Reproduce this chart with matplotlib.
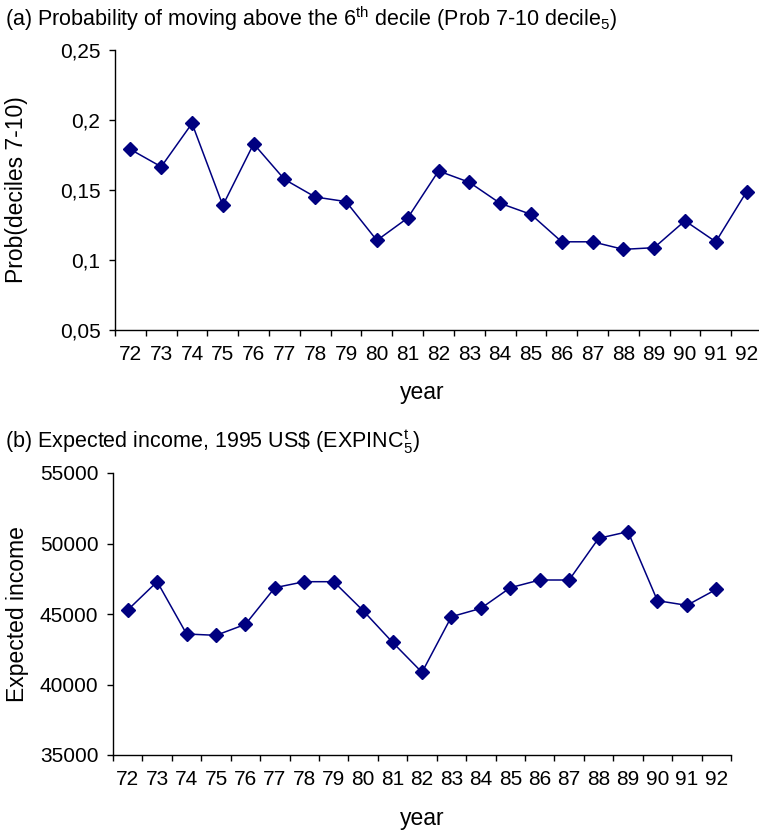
import matplotlib
matplotlib.use("Agg")
import matplotlib.pyplot as plt
import numpy as np

plt.rcParams['font.family'] = ['Liberation Sans', 'DejaVu Sans']
plt.rcParams['mathtext.fontset'] = 'custom'
plt.rcParams['mathtext.rm'] = 'Liberation Sans'
plt.rcParams['mathtext.it'] = 'Liberation Sans'

years = ['72', '73', '74', '75', '76', '77', '78', '79', '80', '81', '82',
         '83', '84', '85', '86', '87', '88', '89', '90', '91', '92']
prob_7_10 = [0.179, 0.1666, 0.1976, 0.139, 0.183, 0.1576, 0.145, 0.1417,
             0.114, 0.130, 0.1636, 0.1555, 0.1405, 0.1326, 0.113, 0.113,
             0.1076, 0.1088, 0.128, 0.113, 0.1488]
exp_income = [45284, 47291, 43582, 43487, 44267, 46866, 47291, 47291,
              45236, 42990, 40863, 44810, 45400, 46866, 47411, 47411,
              50366, 50839, 45945, 45614, 46748]
top_yticks = [0.05, 0.10, 0.15, 0.20, 0.25]
top_yticklabels = ['0,05', '0,1', '0,15', '0,2', '0,25']
bot_yticks = [35000, 40000, 45000, 50000, 55000]
bot_yticklabels = ['35000', '40000', '45000', '50000', '55000']

W, H = 759, 832
fig = plt.figure(figsize=(W / 100, H / 100), dpi=100)

color = '#000080'
fs_tick = 15
fs_label = 16.5
fs_title = 15.5


def setup(ax, values, yticks, ylabels, ylabel, left_px, width_px,
          bottom_px, height_px):
    x = np.arange(len(years))
    ax.plot(x, values, color=color, lw=1.1, marker='D', markersize=7,
            markerfacecolor=color, markeredgecolor=color)
    ax.set_xlim(-0.5, len(years) - 0.5)
    ax.set_ylim(yticks[0], yticks[-1])
    ax.set_xticks(x)
    ax.set_xticklabels(years, fontsize=fs_tick)
    ax.set_xticks(np.arange(len(years) + 1) - 0.5, minor=True)
    ax.tick_params(axis='x', which='major', length=0, pad=10.5)
    ax.tick_params(axis='x', which='minor', length=4.5, width=1, direction='out')
    ax.set_yticks(yticks)
    ax.set_yticklabels(ylabels, fontsize=fs_tick)
    ax.tick_params(axis='y', length=4.5, width=1, direction='out', pad=6)
    for s in ['top', 'right']:
        ax.spines[s].set_visible(False)
    for s in ['left', 'bottom']:
        ax.spines[s].set_linewidth(1)
    ax.set_xlabel('year', fontsize=fs_label, va='center')
    ax.xaxis.set_label_coords((422 - left_px) / width_px, -63 / height_px)
    ax.set_ylabel(ylabel, fontsize=fs_label, va='center')
    ax.yaxis.set_label_coords((17 - left_px) / width_px, 0.5)


ax1 = fig.add_axes([115 / W, 1 - 330 / H, (762 - 115) / W, 280 / H])
ax1.spines['bottom'].set_clip_on(False)
setup(ax1, prob_7_10, top_yticks, top_yticklabels, 'Prob(deciles 7-10)',
      115, 647, 330, 280)

ax2 = fig.add_axes([113 / W, 1 - 755 / H, (731 - 113) / W, 282 / H])
setup(ax2, exp_income, bot_yticks, bot_yticklabels, 'Expected income',
      113, 618, 755, 282)

fig.text(5 / W, 1 - 19 / H,
         r'(a) Probability of moving above the 6$^{\rm th}$ decile (Prob 7-10 decile$_{\rm 5}$)',
         fontsize=fs_title, va='center', ha='left')
fig.text(5 / W, 1 - 442 / H,
         r'(b) Expected income, 1995 US\$ (EXPINC$^{\rm t}_{\rm 5}$)',
         fontsize=fs_title, va='center', ha='left')

fig.savefig('out.png', dpi=100)
